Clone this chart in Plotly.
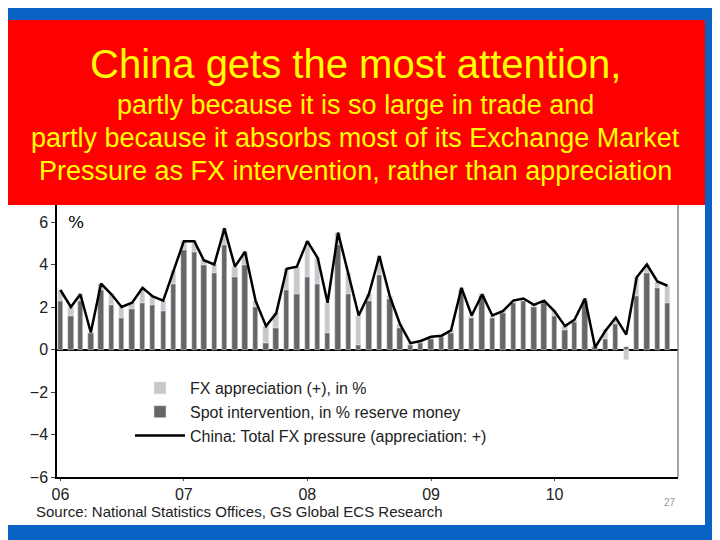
import plotly.graph_objects as go
import pandas as pd

months = pd.date_range("2006-01-01", "2010-12-01", freq="MS")
total = [2.8,2.0,2.6,0.8,3.1,2.6,2.0,2.2,2.9,2.5,2.3,3.7,
         5.1,5.1,4.2,4.0,5.7,3.9,4.6,2.3,1.1,1.7,3.8,3.9,
         5.1,4.3,2.2,5.5,3.6,1.6,2.6,4.4,2.5,1.2,0.3,0.4,
         0.6,0.65,0.9,2.9,1.6,2.6,1.6,1.8,2.3,2.4,2.1,2.3,
         1.8,1.1,1.4,2.4,0.1,0.9,1.5,0.7,3.4,4.0,3.2,3.0]
spot = [2.3,1.6,2.3,0.8,2.8,2.1,1.5,1.9,2.2,2.1,1.8,3.1,
        4.7,4.6,4.0,3.6,4.9,3.4,4.0,2.0,0.3,1.0,2.8,2.6,
        3.4,3.1,0.8,4.9,2.6,0.2,2.3,3.5,2.4,1.0,0.2,0.3,
        0.5,0.6,0.8,2.8,1.5,2.5,1.5,1.7,2.2,2.3,2.0,2.2,
        1.6,0.9,1.3,2.3,0.1,0.5,1.2,0.1,2.5,3.6,2.9,2.2]
fx = [0.5,0.4,0.3,0.0,0.3,0.5,0.5,0.3,0.7,0.4,0.5,0.6,
      0.4,0.5,0.2,0.4,0.8,0.5,0.6,0.3,0.8,0.7,1.0,1.3,
      1.7,1.2,1.4,0.6,1.0,1.4,0.3,0.9,0.1,0.2,0.1,0.1,
      0.1,0.05,0.1,0.1,0.1,0.1,0.1,0.1,0.1,0.1,0.1,0.1,
      0.2,0.2,0.1,0.1,0.0,0.4,0.3,-0.5,0.9,0.4,0.3,0.8]
tick_vals = ["2006-01-01","2007-01-01","2008-01-01","2009-01-01","2010-01-01"]
tick_text = ["06","07","08","09","10"]

OFF = 8  # page body offset
W = 16*24*3600*1000
fig = go.Figure()
fig.add_bar(x=months, y=spot, width=W, marker_color="#666666", name="Spot intervention, in % reserve money", legendrank=2)
fig.add_bar(x=months, y=fx, width=W, marker_color="#c8c8c8", name="FX appreciation (+), in %", legendrank=1)
fig.add_scatter(x=months, y=total, mode="lines", line=dict(color="black", width=2.5),
                name="China: Total FX pressure (appreciation: +)", legendrank=3)

L, R, T, B = 57-OFF, 678-OFF, 205-OFF, 477-OFF
def px(x): return (x-OFF-L)/(R-L)
def py(y): return (B-(y-OFF))/(B-T)

fig.add_shape(type="rect", xref="paper", yref="paper", x0=px(5), x1=px(705), y0=py(525), y1=py(200),
              fillcolor="white", line_width=0, layer="below")
fig.add_shape(type="rect", xref="paper", yref="paper", x0=px(5), x1=px(705), y0=py(205), y1=py(20),
              fillcolor="#ff0000", line_width=0, layer="above")
ff = "Liberation Sans, Arial"
def ann(x, y, text, size, color, xanchor="center", family=ff):
    fig.add_annotation(xref="paper", yref="paper", x=px(x), y=py(y), text=text, xanchor=xanchor,
                       yanchor="middle", showarrow=False, font=dict(family=family, size=size, color=color))
ann(355, 64, "China gets the most attention,", 40, "#ffff00")
ann(355, 105, "partly because it is so large in trade and", 27, "#ffff00")
ann(355, 138, "partly because it absorbs most of its Exchange Market", 27, "#ffff00")
ann(355, 171, "Pressure as FX intervention, rather than appreciation", 27, "#ffff00")
ann(66, 222, "%", 17, "black", xanchor="left", family="DejaVu Serif")
ann(34, 511, "Source: National Statistics Offices, GS Global ECS Research", 15, "#222", xanchor="left")
ann(670, 502, "27", 10, "#999")

fig.update_layout(
    width=720, height=540, barmode="relative", bargap=0,
    paper_bgcolor="#0a63c4", plot_bgcolor="white",
    margin=dict(l=L, r=720-R, t=T, b=540-B),
    font=dict(family=ff, size=16, color="#222"),
    legend=dict(x=px(130), y=py(371), xanchor="left", yanchor="top", bgcolor="rgba(0,0,0,0)",
                font=dict(size=16), tracegroupgap=0, itemwidth=50),
    xaxis=dict(range=["2005-12-22", "2011-01-01"], tickvals=tick_vals, ticktext=tick_text,
               showgrid=False, showline=True, linecolor="black", linewidth=1.5, mirror=False,
               ticks="outside", ticklen=2, tickfont=dict(size=16)),
    yaxis=dict(range=[-6, 6.8], tickvals=[-6,-4,-2,0,2,4,6], showgrid=False, zeroline=True,
               zerolinecolor="black", zerolinewidth=1.5, showline=True, linecolor="black", linewidth=1.5,
               ticks="outside", ticklen=4, tickfont=dict(size=16)),
)
fig.add_shape(type="line", xref="paper", yref="paper", x0=1, x1=1, y0=0, y1=1, line=dict(color="#888", width=1.5))
fig.write_html("out.html")
